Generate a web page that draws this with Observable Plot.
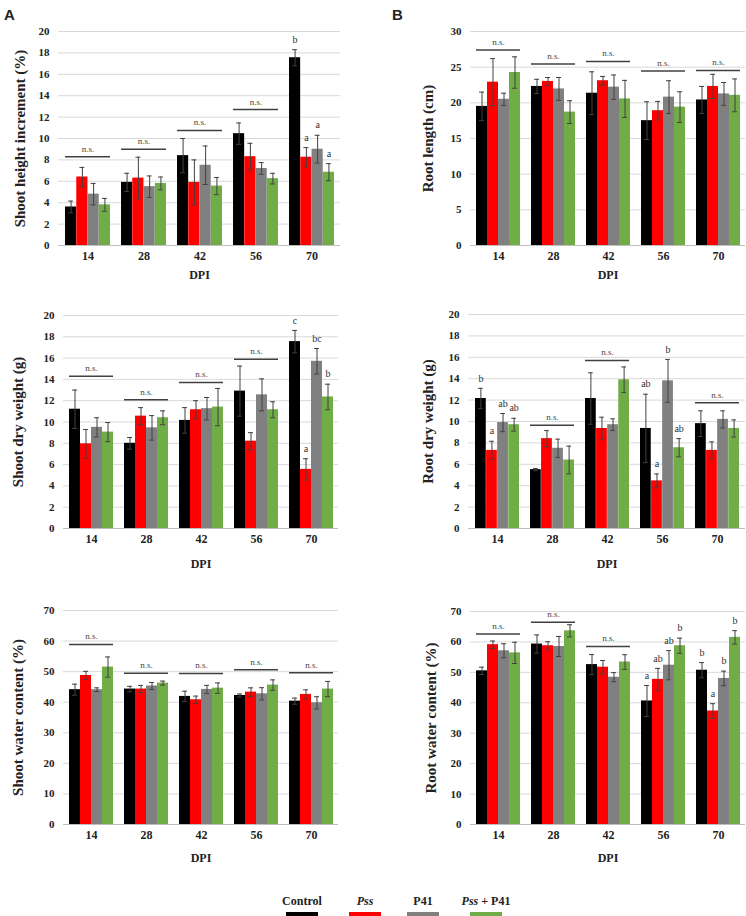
<!DOCTYPE html>
<html>
<head>
<meta charset="utf-8">
<script src="https://cdn.jsdelivr.net/npm/d3@7"></script>
<script src="https://cdn.jsdelivr.net/npm/@observablehq/plot@0.6"></script>
<style>
  body { margin: 0; background: #fff; }
  #fig { position: relative; width: 746px; height: 916px; font-family: "Liberation Serif", serif; color: #222; }
  .panel { position: absolute; }
  .tag { position: absolute; font-family: "Liberation Sans", Arial, sans-serif; font-weight: bold; font-size: 15px; }
  .leg { position: absolute; top: 894px; width: 60px; margin-left: -30px; text-align: center; font-weight: bold; font-size: 12px; }
  .leg span { display: block; width: 32px; height: 4px; margin: 3px auto 0; }
</style>
</head>
<body>
<div id="fig"></div>
<script>
const dpi = ["14", "28", "42", "56", "70"];
const treatments = ["Control", "Pss", "P41", "Pss + P41"];
const colors = ["#000000", "#ff0000", "#808080", "#70ad47"];

// A - shoot height increment (%)
const heightMean = [[3.6, 5.9, 8.4, 10.45, 17.55], [6.4, 6.3, 5.9, 8.3, 8.25], [4.8, 5.5, 7.5, 7.2, 9.0], [3.8, 5.8, 5.55, 6.25, 6.85]];
const heightErr = [[0.55, 0.85, 1.6, 1.0, 0.75], [0.9, 1.95, 2.1, 1.25, 0.9], [1.0, 1.0, 1.8, 0.55, 1.3], [0.6, 0.6, 0.8, 0.5, 0.8]];
const heightLetters = [["", "", "", "", "b"], ["", "", "", "", "a"], ["", "", "", "", "a"], ["", "", "", "", "a"]];
const heightNs = [8.3, 9.0, 10.75, 12.7, null];

// B - root length (cm)
const lengthMean = [[19.5, 22.3, 21.35, 17.5, 20.4], [22.9, 23.0, 23.1, 18.9, 22.3], [20.5, 21.95, 22.2, 20.8, 21.25], [24.25, 18.7, 20.55, 19.4, 21.05]];
const lengthErr = [[2.0, 1.0, 3.0, 2.65, 1.9], [3.3, 0.55, 0.6, 1.3, 1.7], [0.85, 1.6, 1.7, 2.3, 1.6], [2.2, 1.6, 2.6, 2.15, 2.3]];
const lengthLetters = [["", "", "", "", ""], ["", "", "", "", ""], ["", "", "", "", ""], ["", "", "", "", ""]];
const lengthNs = [27.4, 25.45, 25.8, 24.45, 24.55];

// C - shoot dry weight (g)
const shootDwMean = [[11.2, 8.0, 10.15, 12.9, 17.55], [7.95, 10.55, 11.15, 8.2, 5.55], [9.5, 9.45, 11.25, 12.55, 15.7], [9.05, 10.4, 11.4, 11.15, 12.35]];
const shootDwErr = [[1.8, 0.55, 1.2, 2.35, 1.05], [1.35, 0.8, 0.85, 0.8, 1.0], [0.9, 1.15, 1.05, 1.5, 1.2], [0.9, 0.65, 1.75, 0.75, 1.2]];
const shootDwLetters = [["", "", "", "", "c"], ["", "", "", "", "a"], ["", "", "", "", "bc"], ["", "", "", "", "b"]];
const shootDwNs = [14.3, 12.1, 13.7, 15.9, null];

// D - root dry weight (g)
const rootDwMean = [[12.15, 5.5, 12.15, 9.35, 9.8], [7.3, 8.4, 9.35, 4.45, 7.3], [9.9, 7.5, 9.7, 13.8, 10.2], [9.7, 6.4, 13.9, 7.55, 9.35]];
const rootDwErr = [[0.95, 0.1, 2.4, 3.2, 1.2], [0.85, 0.75, 1.05, 0.65, 0.8], [0.85, 0.85, 0.55, 2.0, 0.8], [0.6, 1.3, 1.2, 0.85, 0.8]];
const rootDwLetters = [["b", "", "", "ab", ""], ["a", "", "", "a", ""], ["ab", "", "", "b", ""], ["ab", "", "", "ab", ""]];
const rootDwNs = [null, 9.65, 15.7, null, 11.75];

// E - shoot water content (%)
const shootWcMean = [[44.1, 44.3, 41.9, 42.2, 40.35], [48.75, 44.3, 40.8, 43.3, 42.55], [44.1, 45.3, 44.2, 42.75, 39.8], [51.5, 46.25, 44.6, 45.6, 44.3]];
const shootWcErr = [[1.8, 0.9, 1.7, 0.5, 1.0], [1.35, 1.2, 1.2, 1.4, 1.5], [0.6, 1.15, 1.3, 2.0, 2.0], [3.3, 0.65, 1.7, 1.7, 2.5]];
const shootWcLetters = [["", "", "", "", ""], ["", "", "", "", ""], ["", "", "", "", ""], ["", "", "", "", ""]];
const shootWcNs = [58.9, 49.5, 49.4, 50.6, 49.6];

// F - root water content (%)
const rootWcMean = [[50.5, 59.3, 52.55, 40.6, 50.7], [59.1, 58.75, 51.7, 47.7, 37.3], [57.1, 58.5, 48.4, 52.35, 48.0], [56.4, 63.65, 53.4, 58.75, 61.5]];
const rootWcErr = [[1.2, 3.0, 3.3, 5.1, 2.5], [1.2, 1.3, 2.2, 3.6, 2.4], [2.3, 3.3, 1.5, 4.8, 2.4], [3.5, 2.0, 2.4, 2.5, 2.2]];
const rootWcLetters = [["", "", "", "a", "b"], ["", "", "", "ab", "a"], ["", "", "", "ab", "b"], ["", "", "", "b", "b"]];
const rootWcNs = [62.6, 66.5, 58.5, null, null];

const panels = [
  {tag: "A", left: 0, top: 0, ml: 58, mr: 33, mt: 31, mb: 45, dpiDy: 33, titleDx: -38, title: "Shoot height increment (%)", max: 20, step: 2, mean: heightMean, err: heightErr, letters: heightLetters, ns: heightNs},
  {tag: "B", left: 373, top: 0, ml: 97, mr: 1, mt: 31, mb: 45, dpiDy: 33, titleDx: -42, title: "Root length (cm)", max: 30, step: 5, mean: lengthMean, err: lengthErr, letters: lengthLetters, ns: lengthNs},
  {left: 0, top: 290, ml: 63, mr: 35, mt: 25, mb: 52, dpiDy: 39, titleDx: -45, title: "Shoot dry weight (g)", max: 20, step: 2, mean: shootDwMean, err: shootDwErr, letters: shootDwLetters, ns: shootDwNs},
  {left: 373, top: 290, ml: 95, mr: 1, mt: 24, mb: 52, dpiDy: 39, titleDx: -40, title: "Root dry weight (g)", max: 20, step: 2, mean: rootDwMean, err: rootDwErr, letters: rootDwLetters, ns: rootDwNs},
  {left: 0, top: 580, ml: 63, mr: 35, mt: 30, mb: 46, dpiDy: 37, titleDx: -45, title: "Shoot water content (%)", max: 70, step: 10, mean: shootWcMean, err: shootWcErr, letters: shootWcLetters, ns: shootWcNs},
  {left: 373, top: 580, ml: 97, mr: 1, mt: 31, mb: 46, dpiDy: 37, titleDx: -39, title: "Root water content (%)", max: 70, step: 10, mean: rootWcMean, err: rootWcErr, letters: rootWcLetters, ns: rootWcNs}
];

const serif = "'Liberation Serif', 'Times New Roman', serif";
const fig = document.getElementById("fig");

panels.forEach(p => {
  const W = 373 - p.ml - p.mr;
  const band = W / 5 * 0.8;   // paddingInner 0.2, paddingOuter 0.1
  const bw = band / 4;
  const cap = 5;
  const ticks = d3.range(0, p.max + 0.001, p.step);

  const marks = [
    Plot.gridY(ticks, {stroke: "#d9d9d9", strokeOpacity: 1}),
    Plot.ruleY([0], {stroke: "#bfbfbf", strokeWidth: 1.2}),
    Plot.axisY(ticks, {tickSize: 0, tickPadding: 9, fontSize: 11, fontWeight: "bold", fontFamily: serif, label: null}),
    Plot.axisX({tickSize: 0, tickPadding: 6, fontSize: 12, fontWeight: "bold", fontFamily: serif, label: null}),
    Plot.text([p.title], {frameAnchor: "left", textAnchor: "middle", rotate: -90, dx: p.titleDx, fontSize: 15, fontWeight: "bold", fontFamily: serif}),
    Plot.text(["DPI"], {frameAnchor: "bottom", dy: p.dpiDy, fontSize: 12, fontWeight: "bold", fontFamily: serif})
  ];

  treatments.forEach((t, i) => {
    const rows = dpi.map((d, j) => ({dpi: d, v: p.mean[i][j], e: p.err[i][j], l: p.letters[i][j]}));
    const capLeft = i * bw + (bw - cap) / 2;
    const capRight = band - capLeft - cap;
    marks.push(
      Plot.barY(rows, {x: "dpi", y: "v", fill: colors[i], insetLeft: i * bw, insetRight: (3 - i) * bw}),
      Plot.ruleX(rows, {x: "dpi", y1: d => d.v - d.e, y2: d => d.v + d.e, dx: (i - 1.5) * bw, stroke: "#404040", strokeWidth: 1}),
      Plot.tickY(rows, {x: "dpi", y: d => d.v + d.e, insetLeft: capLeft, insetRight: capRight, stroke: "#404040"}),
      Plot.tickY(rows, {x: "dpi", y: d => d.v - d.e, insetLeft: capLeft, insetRight: capRight, stroke: "#404040"}),
      Plot.text(rows.filter(d => d.l), {x: "dpi", y: d => d.v + d.e, text: "l", dx: (i - 1.5) * bw, dy: -10, fontSize: 10, fontFamily: serif, fill: "#333"})
    );
  });

  const nsRows = dpi.map((d, j) => ({dpi: d, y: p.ns[j]})).filter(d => d.y != null);
  marks.push(
    Plot.tickY(nsRows, {x: "dpi", y: "y", stroke: "#404040", strokeWidth: 1.5}),
    Plot.text(nsRows, {x: "dpi", y: "y", text: () => "n.s.", dy: -8, fontSize: 9, fontFamily: serif, fill: "#444"})
  );

  const chart = Plot.plot({
    width: 373,
    height: 290,
    marginLeft: p.ml,
    marginRight: p.mr,
    marginTop: p.mt,
    marginBottom: p.mb,
    style: {fontFamily: serif, color: "#222", background: "transparent"},
    x: {domain: dpi, paddingInner: 0.2, paddingOuter: 0.1, axis: null},
    y: {domain: [0, p.max], axis: null},
    marks
  });

  const div = document.createElement("div");
  div.className = "panel";
  div.style.left = p.left + "px";
  div.style.top = p.top + "px";
  div.appendChild(chart);
  fig.appendChild(div);

  if (p.tag) {
    const tag = document.createElement("div");
    tag.className = "tag";
    tag.textContent = p.tag;
    tag.style.left = (p.left + (p.tag === "A" ? 4 : 19)) + "px";
    tag.style.top = "6px";
    fig.appendChild(tag);
  }
});

// legend
const legendX = [302, 365, 423, 486];
const legendHtml = ["Control", "<i>Pss</i>", "P41", "<i>Pss</i> + P41"];
treatments.forEach((t, i) => {
  const item = document.createElement("div");
  item.className = "leg";
  item.style.left = legendX[i] + "px";
  item.innerHTML = legendHtml[i] + `<span style="background:${colors[i]}"></span>`;
  fig.appendChild(item);
});
</script>
</body>
</html>
